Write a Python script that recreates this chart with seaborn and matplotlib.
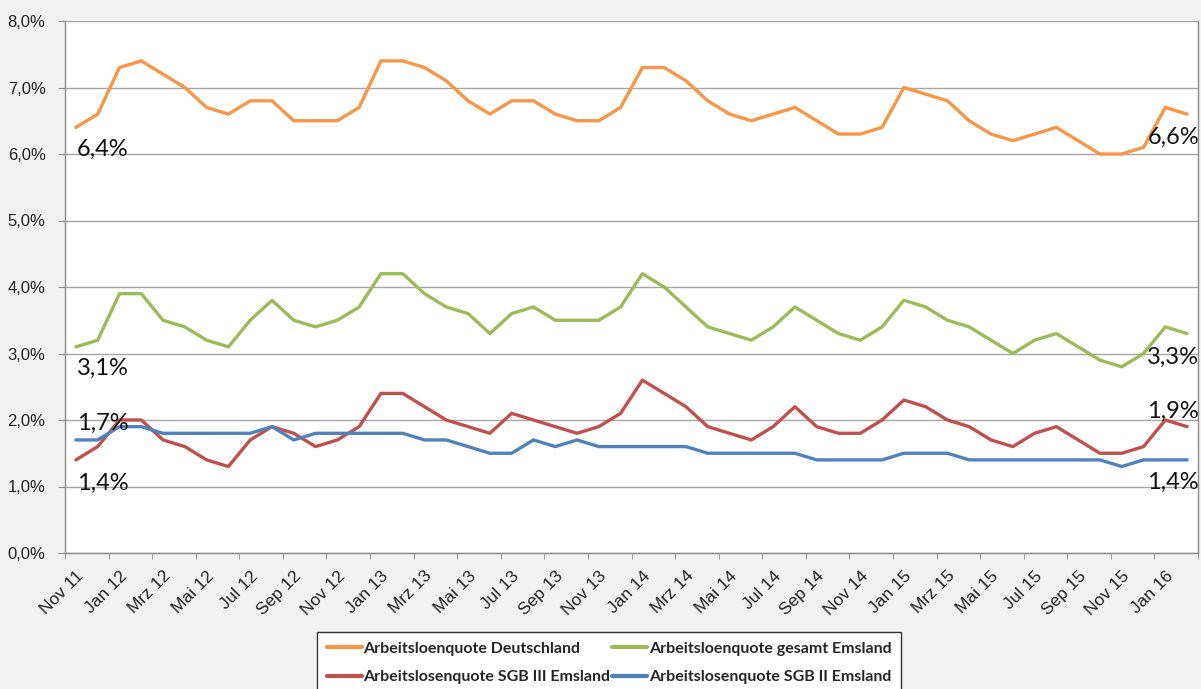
import numpy as np
import pandas as pd
import seaborn as sns
import matplotlib.pyplot as plt


months = ["Nov 11", "Dez 11", "Jan 12", "Feb 12", "Mrz 12", "Apr 12", "Mai 12", "Jun 12",
          "Jul 12", "Aug 12", "Sep 12", "Okt 12", "Nov 12", "Dez 12", "Jan 13", "Feb 13",
          "Mrz 13", "Apr 13", "Mai 13", "Jun 13", "Jul 13", "Aug 13", "Sep 13", "Okt 13",
          "Nov 13", "Dez 13", "Jan 14", "Feb 14", "Mrz 14", "Apr 14", "Mai 14", "Jun 14",
          "Jul 14", "Aug 14", "Sep 14", "Okt 14", "Nov 14", "Dez 14", "Jan 15", "Feb 15",
          "Mrz 15", "Apr 15", "Mai 15", "Jun 15", "Jul 15", "Aug 15", "Sep 15", "Okt 15",
          "Nov 15", "Dez 15", "Jan 16", "Feb 16"]

deutschland = [6.4, 6.6, 7.3, 7.4, 7.2, 7.0, 6.7, 6.6, 6.8, 6.8, 6.5, 6.5, 6.5,
               6.7, 7.4, 7.4, 7.3, 7.1, 6.8, 6.6, 6.8, 6.8, 6.6, 6.5, 6.5, 6.7,
               7.3, 7.3, 7.1, 6.8, 6.6, 6.5, 6.6, 6.7, 6.5, 6.3, 6.3, 6.4,
               7.0, 6.9, 6.8, 6.5, 6.3, 6.2, 6.3, 6.4, 6.2, 6.0, 6.0, 6.1,
               6.7, 6.6]

gesamt_emsland = [3.1, 3.2, 3.9, 3.9, 3.5, 3.4, 3.2, 3.1, 3.5, 3.8, 3.5, 3.4, 3.5,
                  3.7, 4.2, 4.2, 3.9, 3.7, 3.6, 3.3, 3.6, 3.7, 3.5, 3.5, 3.5, 3.7,
                  4.2, 4.0, 3.7, 3.4, 3.3, 3.2, 3.4, 3.7, 3.5, 3.3, 3.2, 3.4,
                  3.8, 3.7, 3.5, 3.4, 3.2, 3.0, 3.2, 3.3, 3.1, 2.9, 2.8, 3.0,
                  3.4, 3.3]

sgb3_emsland = [1.4, 1.6, 2.0, 2.0, 1.7, 1.6, 1.4, 1.3, 1.7, 1.9, 1.8, 1.6, 1.7,
                1.9, 2.4, 2.4, 2.2, 2.0, 1.9, 1.8, 2.1, 2.0, 1.9, 1.8, 1.9, 2.1,
                2.6, 2.4, 2.2, 1.9, 1.8, 1.7, 1.9, 2.2, 1.9, 1.8, 1.8, 2.0,
                2.3, 2.2, 2.0, 1.9, 1.7, 1.6, 1.8, 1.9, 1.7, 1.5, 1.5, 1.6,
                2.0, 1.9]

sgb2_emsland = [1.7, 1.7, 1.9, 1.9, 1.8, 1.8, 1.8, 1.8, 1.8, 1.9, 1.7, 1.8, 1.8,
                1.8, 1.8, 1.8, 1.7, 1.7, 1.6, 1.5, 1.5, 1.7, 1.6, 1.7, 1.6, 1.6,
                1.6, 1.6, 1.6, 1.5, 1.5, 1.5, 1.5, 1.5, 1.4, 1.4, 1.4, 1.4,
                1.5, 1.5, 1.5, 1.4, 1.4, 1.4, 1.4, 1.4, 1.4, 1.4, 1.3, 1.4,
                1.4, 1.4]

series = {
    "Arbeitsloenquote Deutschland": deutschland,
    "Arbeitslosenquote SGB III Emsland": sgb3_emsland,
    "Arbeitsloenquote gesamt Emsland": gesamt_emsland,
    "Arbeitslosenquote SGB II Emsland": sgb2_emsland,
}

palette = {
    "Arbeitsloenquote Deutschland": "#F79646",
    "Arbeitslosenquote SGB III Emsland": "#C0504D",
    "Arbeitsloenquote gesamt Emsland": "#9BBB59",
    "Arbeitslosenquote SGB II Emsland": "#4F81BD",
}

# first / last value labels: (series, index, text, offset in pixels, alignment)
labels = [
    ("Arbeitsloenquote Deutschland", 0, "6,4%", (1, -22), "left"),
    ("Arbeitsloenquote gesamt Emsland", 0, "3,1%", (1, -21), "left"),
    ("Arbeitslosenquote SGB II Emsland", 0, "1,7%", (1, 17), "left"),
    ("Arbeitslosenquote SGB III Emsland", 0, "1,4%", (1, -23), "left"),
    ("Arbeitsloenquote Deutschland", 51, "6,6%", (12, -23), "right"),
    ("Arbeitsloenquote gesamt Emsland", 51, "3,3%", (12, -24), "right"),
    ("Arbeitslosenquote SGB III Emsland", 51, "1,9%", (12, 15), "right"),
    ("Arbeitslosenquote SGB II Emsland", 51, "1,4%", (12, -22), "right"),
]

df = pd.concat([
    pd.DataFrame({"idx": range(len(months)), "month": months, "value": vals, "series": name})
    for name, vals in series.items()
])

sns.set_style("white")
plt.rcParams["font.family"] = ["Liberation Sans", "DejaVu Sans"]

fig = plt.figure(figsize=(12.01, 6.89), dpi=100, facecolor="#f1f1f1")
ax = fig.add_axes([65 / 1201, 1 - 553 / 689, (1198 - 65) / 1201, (553 - 21) / 689])
ax.set_facecolor("white")

sns.lineplot(data=df, x="idx", y="value", hue="series", hue_order=list(series),
             palette=palette, linewidth=2.4, ax=ax, solid_joinstyle="round",
             solid_capstyle="round")

ax.set_xlim(-0.5, len(months) - 0.5)
ax.set_ylim(0, 8)
ax.set_yticks(np.arange(0, 9, 1))
ax.set_yticklabels([f"{v:.1f}%".replace(".", ",") for v in np.arange(0, 9, 1)])
ax.set_xticks(range(0, len(months), 2))
ax.set_xticklabels(months[::2], rotation=45, ha="right", rotation_mode="anchor")
ax.set_xticks(np.arange(-0.5, len(months), 2), minor=True)
ax.tick_params(axis="x", which="major", length=0, pad=11, labelsize=12.5, labelcolor="#222222")
ax.tick_params(axis="x", which="minor", length=4, color="#8c8c8c", direction="out", bottom=True)
ax.tick_params(axis="y", length=5, color="#8c8c8c", pad=9, labelsize=12,
               labelcolor="#222222", left=True)
ax.set_xlabel("")
ax.set_ylabel("")

ax.yaxis.grid(True, color="#a6a6a6", linewidth=1)
ax.set_axisbelow(True)
for side in ["left", "bottom", "right"]:
    ax.spines[side].set_color("#8c8c8c")
    ax.spines[side].set_linewidth(1)
ax.spines["top"].set_visible(False)

for name, i, text, offset, ha in labels:
    ax.annotate(text, (i, series[name][i]), xytext=offset, textcoords="offset pixels",
                ha=ha, va="center", fontsize=17, family=["Lato", "DejaVu Sans"],
                color="#111111")

sns.move_legend(ax, "upper center", bbox_to_anchor=(609 / 1201, 1 - 632 / 689),
                bbox_transform=fig.transFigure, ncol=2, title=None, frameon=True,
                fancybox=False, edgecolor="#333333", facecolor="white", framealpha=1,
                prop={"family": ["Lato", "DejaVu Sans"], "weight": "bold", "size": 11.5},
                handlelength=2.2, handletextpad=0.1, columnspacing=0.1,
                borderpad=0.6, labelspacing=0.9, borderaxespad=0)
leg = ax.get_legend()
leg.get_frame().set_linewidth(1)
for line in leg.get_lines():
    line.set_linewidth(3)

fig.savefig("out.png", dpi=100, facecolor=fig.get_facecolor())
